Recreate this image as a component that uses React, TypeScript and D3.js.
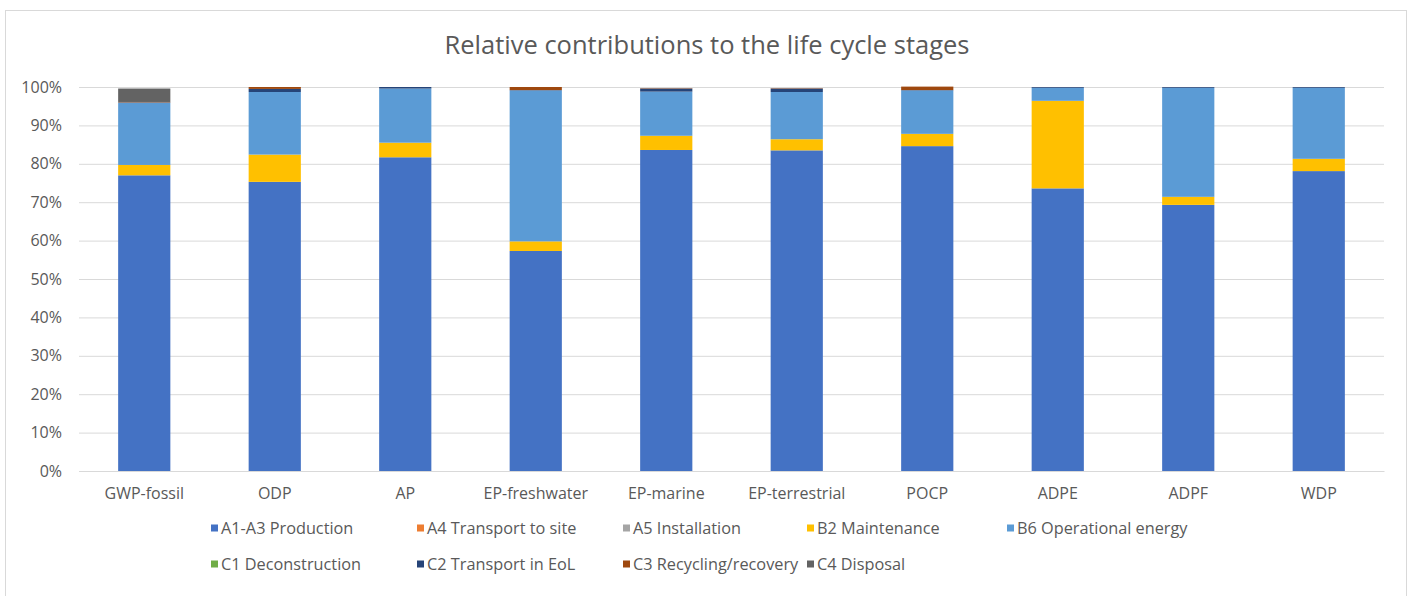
import React, { useRef, useEffect } from 'react'
import * as d3 from 'd3'

const categories = [
  'GWP-fossil',
  'ODP',
  'AP',
  'EP-freshwater',
  'EP-marine',
  'EP-terrestrial',
  'POCP',
  'ADPE',
  'ADPF',
  'WDP'
]

// share of each stage per indicator, in %
const a1a3 = [77.0, 75.3, 81.7, 57.3, 83.6, 83.5, 84.6, 73.6, 69.3, 78.1]
const a4 = [0, 0, 0, 0, 0, 0, 0, 0, 0, 0]
const a5 = [0, 0, 0, 0, 0, 0, 0, 0, 0, 0]
const b2 = [2.7, 7.1, 3.8, 2.5, 3.7, 2.9, 3.2, 22.8, 2.1, 3.2]
const b6 = [16.2, 16.3, 14.1, 39.3, 11.5, 12.3, 11.3, 3.4, 28.4, 18.5]
const c1 = [0, 0, 0, 0, 0, 0, 0, 0, 0, 0]
const c2 = [0.1, 0.8, 0.4, 0.1, 0.8, 0.9, 0.1, 0.2, 0.2, 0.2]
const c3 = [0.1, 0.5, 0, 0.8, 0.1, 0.1, 0.9, 0, 0, 0]
const c4 = [3.5, 0, 0, 0, 0, 0, 0, 0, 0, 0]

const stages = [
  { key: 'A1-A3 Production', values: a1a3, color: '#4472C4' },
  { key: 'A4 Transport to site', values: a4, color: '#ED7D31' },
  { key: 'A5 Installation', values: a5, color: '#A5A5A5' },
  { key: 'B2 Maintenance', values: b2, color: '#FFC000' },
  { key: 'B6 Operational energy', values: b6, color: '#5B9BD5' },
  { key: 'C1 Deconstruction', values: c1, color: '#70AD47' },
  { key: 'C2 Transport in EoL', values: c2, color: '#264478' },
  { key: 'C3 Recycling/recovery', values: c3, color: '#9E480E' },
  { key: 'C4 Disposal', values: c4, color: '#636363' }
]

const yTicks = [0, 10, 20, 30, 40, 50, 60, 70, 80, 90, 100]
const title = 'Relative contributions to the life cycle stages'

const W = 1409
const H = 596
const FONT = '"Open Sans", sans-serif'
const TEXT = '#595959'

const App = () => {
  const svgRef = useRef(null)

  useEffect(() => {
    const svg = d3.select(svgRef.current)
    svg.selectAll('*').remove()

    // chart frame
    svg
      .append('rect')
      .attr('x', 5.5)
      .attr('y', 10.5)
      .attr('width', 1401)
      .attr('height', 600)
      .attr('fill', 'white')
      .attr('stroke', '#d9d9d9')

    svg
      .append('text')
      .attr('x', 707)
      .attr('y', 54)
      .attr('text-anchor', 'middle')
      .attr('font-family', FONT)
      .attr('font-size', 25.5)
      .attr('fill', TEXT)
      .text(title)

    const x = d3
      .scaleBand()
      .domain(categories)
      .range([79, 1384])
      .paddingInner(0.6)
      .paddingOuter(0.3)
    const y = d3.scaleLinear().domain([0, 100]).range([471, 87])

    const yAxis = d3
      .axisLeft(y)
      .tickValues(yTicks)
      .tickSize(-(1384 - 79))
      .tickPadding(17)
      .tickFormat(v => `${v}%`)
    const yg = svg.append('g').attr('transform', 'translate(79,0)').call(yAxis)
    yg.select('.domain').remove()
    yg.selectAll('line').attr('stroke', '#d9d9d9')
    yg.selectAll('text')
      .attr('fill', TEXT)
      .attr('font-family', FONT)
      .attr('font-size', 16)

    // stacked bars
    const rows = categories.map((c, i) => {
      const r = { cat: c }
      stages.forEach(s => (r[s.key] = s.values[i]))
      return r
    })
    const stack = d3.stack().keys(stages.map(s => s.key))(rows)

    svg
      .append('g')
      .selectAll('g')
      .data(stack)
      .enter()
      .append('g')
      .attr('fill', (d, i) => stages[i].color)
      .selectAll('rect')
      .data(d => d)
      .enter()
      .append('rect')
      .attr('x', d => x(d.data.cat))
      .attr('width', x.bandwidth())
      .attr('y', d => y(d[1]))
      .attr('height', d => Math.max(0, y(d[0]) - y(d[1])))

    const xAxis = d3.axisBottom(x).tickSize(0).tickPadding(17)
    const xg = svg.append('g').attr('transform', 'translate(0,471)').call(xAxis)
    xg.select('.domain').attr('stroke', '#d9d9d9')
    xg.selectAll('text')
      .attr('fill', TEXT)
      .attr('font-family', FONT)
      .attr('font-size', 16)

    // legend, two rows in shared columns
    const cols = [211, 417, 623, 807, 1007]
    const rowsY = [528, 564]
    const lg = svg
      .append('g')
      .selectAll('g')
      .data(stages)
      .enter()
      .append('g')
      .attr('transform', (d, i) => `translate(${cols[i % 5]},${rowsY[Math.floor(i / 5)]})`)
    lg.append('rect')
      .attr('x', 0)
      .attr('y', -3.5)
      .attr('width', 7)
      .attr('height', 7)
      .attr('fill', d => d.color)
    lg.append('text')
      .attr('x', 10)
      .attr('dy', '0.35em')
      .attr('font-family', FONT)
      .attr('font-size', 16.3)
      .attr('fill', TEXT)
      .text(d => d.key)
  }, [])

  return (
    <svg
      ref={svgRef}
      width={W}
      height={H}
      style={{ position: 'absolute', left: 0, top: 0, display: 'block' }}
    />
  )
}

export default App
